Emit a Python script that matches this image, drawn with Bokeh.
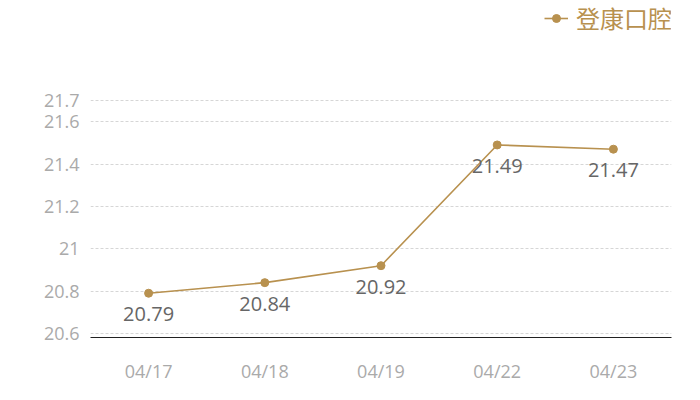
from bokeh.plotting import figure
from bokeh.models import ColumnDataSource, FixedTicker, Legend, LegendItem, Range1d, FactorRange
from bokeh.core.properties import value
from bokeh.embed import file_html
from bokeh.resources import INLINE

dates = ["04/17", "04/18", "04/19", "04/22", "04/23"]
prices = [20.79, 20.84, 20.92, 21.49, 21.47]
y_ticks = [20.6, 20.8, 21.0, 21.2, 21.4, 21.6, 21.7]
series_name = "登康口腔"

gold = "#b8914f"
src = ColumnDataSource(dict(x=dates, y=prices, label=[f"{v:.2f}" for v in prices]))

p = figure(width=700, height=392, x_range=FactorRange(*dates), y_range=Range1d(20.581, 22.172),
           output_backend="svg", toolbar_location=None,
           min_border_left=90, min_border_right=29, min_border_top=0, min_border_bottom=55)
p.outline_line_color = None
p.background_fill_color = "white"

r_line = p.line("x", "y", source=src, line_color=gold, line_width=1.6)
r_pt = p.scatter("x", "y", source=src, size=8, fill_color=gold, line_color=gold)
p.text("x", "y", text="label", source=src, text_align="center", text_baseline="top",
       y_offset=14, text_font_size="20px", text_color="#666666", text_font=value("Open Sans"))

p.yaxis.ticker = FixedTicker(ticks=y_ticks)
p.yaxis.axis_line_color = None
p.yaxis.major_tick_line_color = None
p.yaxis.minor_tick_line_color = None
p.yaxis.major_label_text_color = "#aaaaaa"
p.yaxis.major_label_text_font_size = "18px"
p.yaxis.major_label_text_font = "Open Sans"
p.yaxis.major_label_standoff = 5
p.yaxis.formatter.use_scientific = False

p.ygrid.ticker = FixedTicker(ticks=y_ticks)
p.ygrid.grid_line_color = "#cccccc"
p.ygrid.grid_line_dash = "3 2"
p.ygrid.grid_line_width = 0.8
p.xgrid.grid_line_color = None

p.xaxis.axis_line_color = "#222222"
p.xaxis.axis_line_width = 1
p.xaxis.major_tick_line_color = None
p.xaxis.minor_tick_line_color = None
p.xaxis.major_label_text_color = "#aaaaaa"
p.xaxis.major_label_text_font_size = "18px"
p.xaxis.major_label_text_font = "Open Sans"
p.xaxis.major_label_standoff = 15

legend = Legend(items=[LegendItem(label=series_name, renderers=[r_line, r_pt])],
                location=(454, 302), border_line_color=None, background_fill_alpha=0,
                label_text_font_size="24px", label_text_color=gold,
                label_text_font="Noto Sans CJK SC", glyph_width=24, label_standoff=8,
                padding=0, margin=0)
p.add_layout(legend)

open("out.html", "w").write(file_html(p, INLINE))
